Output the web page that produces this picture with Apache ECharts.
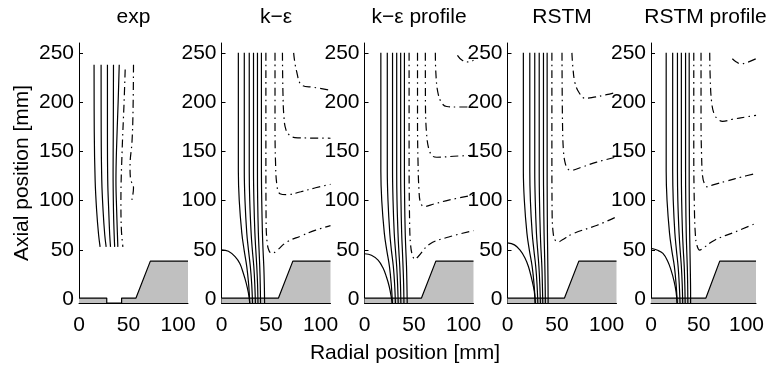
<!DOCTYPE html>
<html>
<head>
<meta charset="utf-8">
<script src="https://cdn.jsdelivr.net/npm/echarts@6/dist/echarts.min.js"></script>
<style>
  html, body { margin: 0; padding: 0; background: #fff; }
  #chart { width: 767px; height: 365px; }
</style>
</head>
<body>
<div id="chart"></div>
<script>
// panel titles and ticks
const titles = ['exp', 'k\u2212\u03b5', 'k\u2212\u03b5 profile', 'RSTM', 'RSTM profile'];
const xTicks = [0, 50, 100];
const yTicks = [0, 50, 100, 150, 200, 250];

// nozzle / wall geometry (top outline, filled down to the axis)
const expGeometry = [[0, 1], [28, 1], [28, -4], [43, -4], [43, 1], [57.5, 1], [72, 38.5], [110, 38.5]];
const nozzleGeometry = [[0, 1], [57.5, 1], [72, 38.5], [110, 38.5]];

// experiment: solid and dash-dot contours, [radial, axial]
const expSolid = [
    [[15.2, 238], [15.4, 170], [16.3, 120], [17.8, 90], [19.8, 65], [21.3, 53]],
    [[22.3, 238], [22.4, 170], [23, 120], [24.3, 90], [26, 65], [27.4, 53]],
    [[28.7, 238], [28.7, 170], [29, 120], [30, 90], [31, 65], [31.8, 53]],
    [[34.8, 238], [34.6, 170], [34.4, 130], [34.8, 90], [35.5, 65], [36, 53]],
    [[40.6, 238], [39.5, 200], [37.8, 150], [37.3, 120], [38, 90], [38.8, 65], [39.2, 53]],
];
const expDashDot = [
    [[46.6, 233], [45.5, 200], [43.5, 150], [42.3, 100], [42.8, 70], [44.3, 53]],
    [[55, 238], [54.5, 190], [53.5, 160], [51.5, 135], [52, 122], [55, 113], [53, 99]],
];

// simulations: solid contours, radial position at these axial levels
const solidY = [250, 130, 100, 67, 50, 33, 15, -4];

const keSolidX = [
    [17, 17, 17.9, 20.5, 22.8, 25.5, 27.4, 28.5],
    [23, 23, 23.7, 25.5, 27.2, 29.1, 30.5, 31.3],
    [28, 28, 28.5, 29.9, 31.1, 32.6, 33.6, 34.2],
    [32.3, 32.3, 32.7, 33.7, 34.6, 35.6, 36.4, 36.8],
    [36.3, 36.3, 36.5, 37.2, 37.9, 38.6, 39.1, 39.4],
    [40.3, 40.3, 40.6, 41.3, 41.9, 42.7, 43.2, 43.5],
];
const keProfileSolidX = [
    [16.5, 16.5, 17.4, 20.0, 22.4, 25.2, 27.0, 28.2],
    [23, 23, 23.7, 25.5, 27.1, 29.1, 30.4, 31.2],
    [28.3, 28.3, 28.8, 30.0, 31.2, 32.5, 33.4, 34.0],
    [32.5, 32.5, 32.8, 33.8, 34.6, 35.6, 36.3, 36.7],
    [36.5, 36.5, 36.8, 37.5, 38.2, 38.9, 39.5, 39.8],
    [40.3, 40.3, 40.5, 41.1, 41.7, 42.4, 42.8, 43.1],
];
const rstmSolidX = [
    [16, 16, 17.0, 19.6, 22.0, 24.9, 26.8, 28],
    [22.5, 22.5, 23.1, 24.9, 26.6, 28.5, 29.8, 30.6],
    [27.5, 27.5, 28.0, 29.2, 30.4, 31.7, 32.6, 33.2],
    [32, 32, 32.3, 33.1, 33.8, 34.7, 35.2, 35.6],
    [36.3, 36.3, 36.5, 36.9, 37.3, 37.7, 38.0, 38.2],
    [40, 40, 40.1, 40.3, 40.5, 40.7, 40.9, 41.0],
];
const rstmProfileSolidX = [
    [15.9, 15.9, 16.8, 19.4, 21.7, 24.5, 26.3, 27.5],
    [22.7, 22.7, 23.3, 25.0, 26.6, 28.4, 29.6, 30.4],
    [27.7, 27.7, 28.1, 29.4, 30.5, 31.8, 32.7, 33.2],
    [31.8, 31.8, 32.1, 33.0, 33.8, 34.8, 35.4, 35.8],
    [36.2, 36.2, 36.4, 36.9, 37.4, 38.0, 38.4, 38.6],
    [40, 40, 40.1, 40.5, 40.8, 41.1, 41.4, 41.5],
];

// recirculation arc near the axis
const keArc = [[0, 50], [7, 48.5], [13.7, 43], [18.5, 36], [22.1, 26], [25, 16], [27.2, 6], [28.5, -4]];
const keProfileArc = [[0, 46], [7, 44.5], [13.7, 39.5], [18.5, 32], [22.1, 22.6], [25, 12.5], [27.2, 1], [27.8, -4]];
const rstmArc = [[0, 57], [7, 55], [12.7, 49.7], [17.5, 42], [21.2, 32.8], [24.5, 20], [27, 8], [28, -4]];
const rstmProfileArc = [[0, 51.4], [7, 49.5], [12.5, 46.3], [17.5, 38.5], [21, 29.4], [24.2, 18], [26.3, 7], [27.3, -4]];

// dash-dot contours
const keDashDot = [
    [[44.8, 250], [44.8, 150], [45, 80], [46, 58], [48, 49], [51, 46.3], [55, 48.5], [66, 58], [80, 64], [95, 70], [110, 74.5]],
    [[54, 250], [54, 180], [54.5, 140], [56, 115], [59, 107], [66, 106], [80, 109], [95, 113], [110, 116.5]],
    [[61.5, 250], [62, 210], [63, 185], [65, 172], [69, 166], [74, 164], [90, 163.5], [110, 163.3]],
    [[72.8, 250], [75.6, 232], [81.3, 217], [93, 215], [110, 212]],
];
const keProfileDashDot = [
    [[45, 250], [45, 150], [45.5, 80], [46.5, 55], [48.5, 44], [51, 40.3], [54, 43], [66, 56], [85, 63], [110, 69.5]],
    [[53.5, 250], [53.5, 180], [54, 140], [55, 110], [56.5, 98], [60, 94], [70, 96.5], [85, 100.5], [110, 105.5]],
    [[61.4, 250], [61.5, 200], [62.5, 170], [65, 152], [69, 145], [73, 144], [90, 145], [110, 146]],
    [[71.5, 250], [72, 230], [74, 210], [78, 199], [83, 195.5], [95, 195], [110, 195]],
    [[93.8, 247.5], [98.6, 242.4], [105.3, 240.7], [110, 242.4]],
];
const rstmDashDot = [
    [[44.8, 250], [44.8, 150], [45, 90], [46, 68], [48, 60], [51.5, 58], [55, 60], [66.7, 66.6], [90.5, 75], [110, 83.5]],
    [[55, 250], [55.5, 180], [56.5, 150], [58.5, 137], [61, 132], [64, 130.8], [75, 134], [90, 139], [110, 144.3]],
    [[65, 250], [66, 235], [68, 220], [72, 210], [78, 204], [85, 204.5], [100, 207.5], [110, 210]],
];
const rstmProfileDashDot = [
    [[44.8, 250], [44.8, 150], [45.5, 90], [46.5, 65], [48, 55], [51, 49.7], [55, 52], [66.6, 59.8], [88.5, 68.3], [110, 77]],
    [[52.4, 250], [52.4, 180], [53, 145], [54, 125], [56, 117], [58.5, 114], [65, 116], [80, 120], [95, 124], [110, 127.5]],
    [[61.5, 250], [62, 225], [63.5, 200], [66.5, 187], [71, 182], [75, 180.5], [85, 182.5], [100, 185], [110, 186.6]],
    [[85.2, 244], [89, 241], [93.6, 239], [100, 240], [110, 244]],
];

const withY = (xs) => xs.map((x, k) => [x, solidY[k]]);

const panels = [
    { geom: expGeometry, solid: expSolid, arc: null, dash: expDashDot },
    { geom: nozzleGeometry, solid: keSolidX.map(withY), arc: keArc, dash: keDashDot },
    { geom: nozzleGeometry, solid: keProfileSolidX.map(withY), arc: keProfileArc, dash: keProfileDashDot },
    { geom: nozzleGeometry, solid: rstmSolidX.map(withY), arc: rstmArc, dash: rstmDashDot },
    { geom: nozzleGeometry, solid: rstmProfileSolidX.map(withY), arc: rstmProfileArc, dash: rstmProfileDashDot },
];

const panelLeft = [79, 221.5, 364.5, 507.5, 651];
const panelWidth = 109;
const font = 'Liberation Sans, Arial, Helvetica, sans-serif';
const fontSize = 21;
const lw = 1.2;

const chart = echarts.init(document.getElementById('chart'), null, { renderer: 'canvas' });

const grids = [], xAxes = [], yAxes = [], series = [], graphics = [];

panels.forEach((p, i) => {
    grids.push({ left: panelLeft[i], top: 43, width: panelWidth, height: 260 });

    xAxes.push({
        gridIndex: i,
        type: 'value',
        min: 0,
        max: 110,
        axisLine: { show: true, onZero: false, lineStyle: { color: '#000', width: 1 } },
        axisTick: { show: true, inside: true, length: 4, customValues: xTicks, lineStyle: { color: '#000' } },
        axisLabel: { customValues: xTicks, color: '#000', fontSize, fontFamily: font, margin: 12 },
        splitLine: { show: false },
    });

    yAxes.push({
        gridIndex: i,
        type: 'value',
        min: -4,
        max: 260,
        axisLine: { show: true, onZero: false, lineStyle: { color: '#000', width: 1 } },
        axisTick: { show: true, inside: true, length: 4, customValues: yTicks, lineStyle: { color: '#000' } },
        axisLabel: { customValues: yTicks, color: '#000', fontSize, fontFamily: font, margin: 5 },
        splitLine: { show: false },
    });

    const base = { type: 'line', xAxisIndex: i, yAxisIndex: i, showSymbol: false, silent: true };

    // gray wall
    series.push({
        ...base,
        data: p.geom,
        lineStyle: { color: '#000', width: lw },
        areaStyle: { color: '#c0c0c0', opacity: 1, origin: 'start' },
        z: 1,
    });

    p.solid.forEach((line) => {
        series.push({ ...base, data: line, smooth: 0.4, lineStyle: { color: '#000', width: lw }, z: 3 });
    });

    if (p.arc) {
        series.push({ ...base, data: p.arc, smooth: 0.4, lineStyle: { color: '#000', width: lw }, z: 3 });
    }

    p.dash.forEach((line) => {
        series.push({
            ...base,
            data: line,
            smooth: 0.4,
            lineStyle: { color: '#000', width: lw, type: [8, 4, 1.5, 4] },
            z: 3,
        });
    });

    graphics.push({
        type: 'text',
        x: panelLeft[i] + panelWidth / 2,
        y: 17,
        style: { text: titles[i], fill: '#000', font: `${fontSize}px ${font}`, align: 'center', verticalAlign: 'middle' },
    });
});

// axis titles
graphics.push({
    type: 'text',
    x: 405,
    y: 353,
    style: { text: 'Radial position [mm]', fill: '#000', font: `${fontSize}px ${font}`, align: 'center', verticalAlign: 'middle' },
});
graphics.push({
    type: 'text',
    x: 22,
    y: 173,
    rotation: Math.PI / 2,
    style: { text: 'Axial position [mm]', fill: '#000', font: `${fontSize}px ${font}`, align: 'center', verticalAlign: 'middle' },
});

chart.setOption({
    animation: false,
    backgroundColor: '#fff',
    grid: grids,
    xAxis: xAxes,
    yAxis: yAxes,
    series,
    graphic: graphics,
});
</script>
</body>
</html>
